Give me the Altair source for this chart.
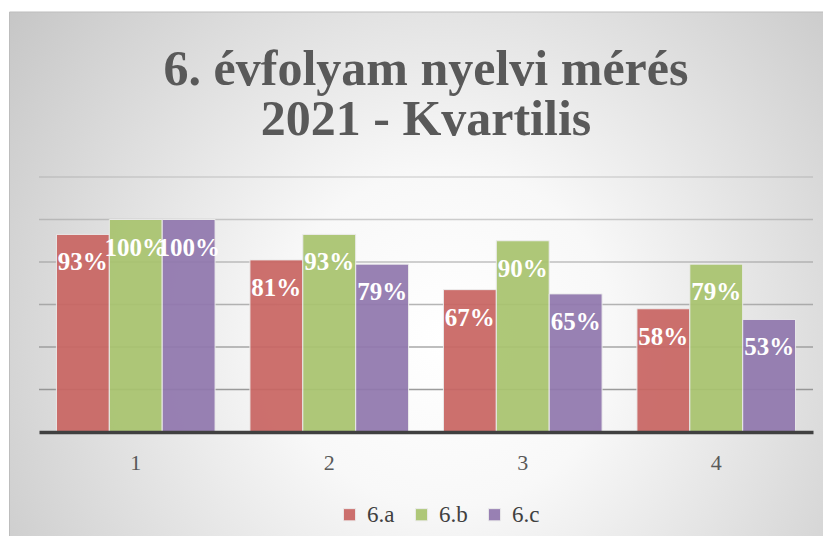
import altair as alt
import pandas as pd

quartiles = ["1", "2", "3", "4"]
classes = ["6.a", "6.b", "6.c"]
values_6a = [0.93, 0.81, 0.67, 0.58]
values_6b = [1.00, 0.93, 0.90, 0.79]
values_6c = [1.00, 0.79, 0.65, 0.53]
grid_values = [0.2, 0.4, 0.6, 0.8, 1.0, 1.2]
colors = ["#c96663", "#a9c46f", "#9178ae"]
title_lines = ["6. évfolyam nyelvi mérés", "2021 - Kvartilis"]

rows = []
for cls, vals in zip(classes, [values_6a, values_6b, values_6c]):
    for q, v in zip(quartiles, vals):
        rows.append({"q": q, "cls": cls, "v": v})
df = pd.DataFrame(rows)
grid_df = pd.DataFrame({"g": grid_values})
bg_df = pd.DataFrame({"a": [0]})

W, H = 774, 255
y_scale = alt.Scale(domain=[0, 1.2], nice=False, zero=True)

bg_gradient = alt.RadialGradient(
    gradient="radial",
    stops=[
        alt.GradientStop(color="#ffffff", offset=0),
        alt.GradientStop(color="#f8f8f8", offset=0.3),
        alt.GradientStop(color="#c4c4c4", offset=1),
    ],
    x1=0.52, y1=0.29, x2=0.52, y2=0.29, r1=0, r2=0.5,
)

background = alt.Chart(bg_df).mark_rect(
    fill=bg_gradient, stroke="#bdbdbd", strokeWidth=1
).encode(
    x=alt.value(-29.5), x2=alt.value(800), y=alt.value(-165), y2=alt.value(960)
)

grid = alt.Chart(grid_df).mark_rule(color="#8a8a8a", strokeWidth=1.5).encode(
    y=alt.Y("g:Q", scale=y_scale, axis=None),
    x=alt.value(0),
    x2=alt.value(W),
    opacity=alt.Opacity("g:Q", scale=alt.Scale(domain=[0, 1.2], range=[0.95, 0.3]), legend=None),
)

x_enc = alt.X(
    "q:N", sort=quartiles,
    scale=alt.Scale(paddingInner=0.18, paddingOuter=0.09),
    axis=alt.Axis(
        title=None, labelAngle=0, ticks=False, domain=True,
        domainColor="#404040", domainWidth=3.5,
        labelFont="Liberation Serif", labelFontSize=22, labelColor="#595959",
        labelPadding=20, grid=False, zindex=1,
    ),
)
xoff = alt.XOffset("cls:N", sort=classes, scale=alt.Scale(paddingInner=0, paddingOuter=0))

bars = alt.Chart(df).mark_bar(opacity=0.93, stroke="#ececec", strokeWidth=1).encode(
    x=x_enc,
    xOffset=xoff,
    y=alt.Y("v:Q", scale=y_scale, axis=None),
    color=alt.Color(
        "cls:N", sort=classes,
        scale=alt.Scale(domain=classes, range=colors),
        legend=alt.Legend(
            orient="none", direction="horizontal", legendX=299, legendY=326,
            title=None, symbolType="square", symbolSize=150, symbolStrokeWidth=1,
            labelFont="Liberation Serif", labelFontSize=23, labelColor="#404040",
            labelOffset=6, columnPadding=15, padding=0,
        ),
    ),
)

labels = alt.Chart(df).mark_text(
    font="Liberation Serif", fontSize=25, fontWeight="bold", color="white",
    baseline="alphabetic", dy=36,
).encode(
    x=alt.X("q:N", sort=quartiles),
    xOffset=xoff,
    y=alt.Y("v:Q", scale=y_scale, axis=None),
    text=alt.Text("v:Q", format=".0%"),
)

chart = alt.layer(background, grid, bars, labels).properties(
    width=W, height=H,
    title=alt.TitleParams(
        title_lines, font="Liberation Serif", fontSize=50, fontWeight="bold",
        color="#595959", lineHeight=50, anchor="middle", frame="group", offset=-133,
    ),
    autosize=alt.AutoSizeParams(type="none"),
    padding={"left": 31, "top": 169, "right": 10, "bottom": 104},
).configure_view(stroke=None)

chart.save("out.html", embed_options={"renderer": "svg", "actions": False})
